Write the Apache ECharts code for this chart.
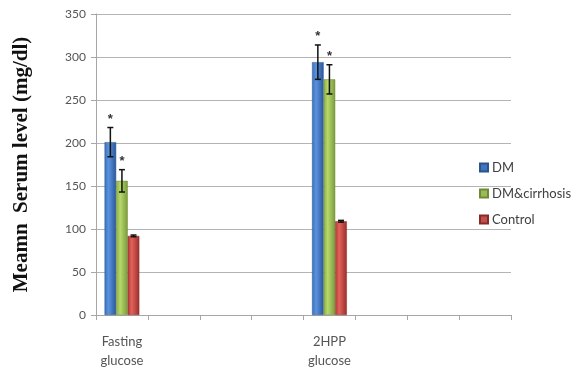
<!DOCTYPE html>
<html>
<head>
<meta charset="utf-8">
<script src="https://cdn.jsdelivr.net/npm/echarts@6/dist/echarts.min.js"></script>
<style>
  html, body { margin: 0; padding: 0; background: #fff; }
  #chart { width: 574px; height: 371px; }
</style>
</head>
<body>
<div id="chart"></div>
<script>
// categories on the x axis (only two carry a label)
var categories = ['Fasting\nglucose', '', '', '', '2HPP\nglucose', '', '', ''];
var seriesNames = ['DM', 'DM&cirrhosis', 'Control'];

// means (mg/dl), one value per category
var dmMean      = [201, null, null, null, 294, null, null, null];
var cirrMean    = [156, null, null, null, 274, null, null, null];
var controlMean = [92,  null, null, null, 109, null, null, null];

// error bar half widths
var dmErr      = [17, null, null, null, 20, null, null, null];
var cirrErr    = [13, null, null, null, 17, null, null, null];
var controlErr = [1,  null, null, null, 1,  null, null, null];

// significance marks
var dmStar      = ['*', '', '', '', '*', '', '', ''];
var cirrStar    = ['*', '', '', '', '*', '', '', ''];
var controlStar = ['', '', '', '', '', '', '', ''];

var yTicks = { min: 0, max: 350, interval: 50 };

var means = [dmMean, cirrMean, controlMean];
var errs = [dmErr, cirrErr, controlErr];
var stars = [dmStar, cirrStar, controlStar];

var barGap = 0.33; // barCategoryGap fraction

function grad(c1, c2, c3) {
  return new echarts.graphic.LinearGradient(0, 0, 1, 0, [
    { offset: 0, color: c1 },
    { offset: 0.35, color: c2 },
    { offset: 1, color: c3 }
  ]);
}
var fills = [
  grad('#3a70bd', '#5a92de', '#2b5899'),
  grad('#8aad45', '#b6d86c', '#7a9a3a'),
  grad('#b33a36', '#e0625c', '#9c2d29')
];
var borders = ['#2b5489', '#6f8c35', '#8a2a27'];
var legendColors = ['#3f75c0', '#9bbb59', '#c0504d'];

var chart = echarts.init(document.getElementById('chart'));

var series = [];
seriesNames.forEach(function (name, s) {
  series.push({
    name: name,
    type: 'bar',
    data: means[s],
    barGap: 0,
    barCategoryGap: (barGap * 100) + '%',
    itemStyle: { color: fills[s], borderColor: borders[s], borderWidth: 0.5 },
    emphasis: { disabled: true }
  });
});

// error bars + asterisks
seriesNames.forEach(function (name, s) {
  var data = [];
  means[s].forEach(function (m, i) {
    if (m == null) return;
    data.push([i, m, errs[s][i], stars[s][i]]);
  });
  series.push({
    name: name + ' err',
    type: 'custom',
    silent: true,
    z: 5,
    data: data,
    renderItem: function (params, api) {
      var i = api.value(0), m = api.value(1), e = api.value(2);
      var star = data[params.dataIndex][3];
      var catW = api.size([1, 0])[0];
      var bw = catW * (1 - barGap) / 3;
      var off = (s - 1) * bw;
      var top = api.coord([i, m + e]);
      var bot = api.coord([i, m - e]);
      var x = top[0] + off;
      var cap = 3;
      var style = { stroke: '#111', lineWidth: 1.5 };
      var children = [
        { type: 'line', shape: { x1: x, y1: top[1], x2: x, y2: bot[1] }, style: style },
        { type: 'line', shape: { x1: x - cap, y1: top[1], x2: x + cap, y2: top[1] }, style: style },
        { type: 'line', shape: { x1: x - cap, y1: bot[1], x2: x + cap, y2: bot[1] }, style: style }
      ];
      if (star) {
        children.push({
          type: 'text',
          style: {
            x: x, y: top[1] - 2, text: star,
            fill: '#333', font: 'bold 13px "Liberation Sans"',
            align: 'center', verticalAlign: 'bottom'
          }
        });
      }
      return { type: 'group', children: children };
    }
  });
});

chart.setOption({
  animation: false,
  backgroundColor: '#fff',
  grid: { left: 96, right: 63, top: 14, bottom: 56 },
  legend: {
    data: seriesNames.map(function (n, s) {
      return { name: n, itemStyle: { color: legendColors[s] } };
    }),
    orient: 'vertical',
    left: 474,
    top: 156,
    itemWidth: 8,
    itemHeight: 8,
    itemGap: 13,
    icon: 'rect',
    selectedMode: false,
    textStyle: { fontFamily: 'Lato', fontSize: 13, color: '#404040', padding: [0, 0, 0, -1] }
  },
  xAxis: {
    type: 'category',
    data: categories,
    axisLine: { lineStyle: { color: '#a6a6a6', width: 1 } },
    axisTick: { show: true, length: 5, lineStyle: { color: '#a6a6a6' } },
    axisLabel: {
      interval: 0, margin: 17, fontFamily: 'Lato', fontSize: 13,
      color: '#555', lineHeight: 19
    },
    splitLine: { show: false }
  },
  yAxis: {
    type: 'value',
    min: yTicks.min,
    max: yTicks.max,
    interval: yTicks.interval,
    name: 'Meamn  Serum level (mg/dl)',
    nameLocation: 'middle',
    nameGap: 64,
    nameTextStyle: {
      fontFamily: 'Liberation Serif', fontWeight: 'bold', fontSize: 21, color: '#111'
    },
    axisLine: { show: true, lineStyle: { color: '#a6a6a6' } },
    axisTick: { show: true, length: 5, lineStyle: { color: '#a6a6a6' } },
    axisLabel: { fontFamily: 'Lato', fontSize: 12, color: '#555', margin: 10 },
    splitLine: { lineStyle: { color: '#b4b4b4', width: 1 } }
  },
  series: series
});
</script>
</body>
</html>
